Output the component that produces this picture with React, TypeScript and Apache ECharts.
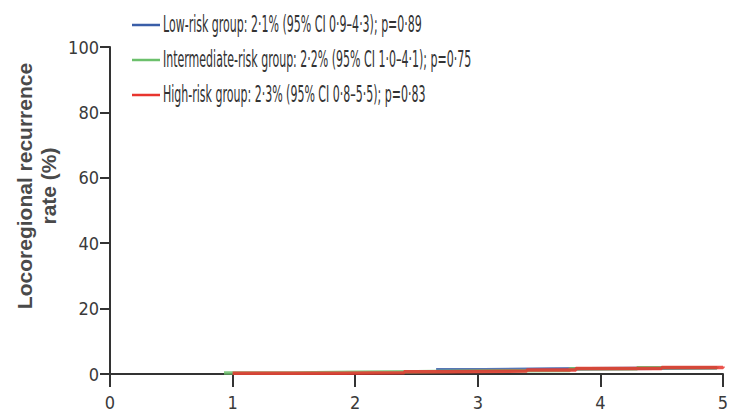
import React, { useEffect, useRef } from "react";
import * as echarts from "echarts";

const xTicks = [0, 1, 2, 3, 4, 5];
const yTicks = [0, 20, 40, 60, 80, 100];

const seriesNames = [
  "Low-risk group: 2·1% (95% CI 0·9–4·3); p=0·89",
  "Intermediate-risk group: 2·2% (95% CI 1·0–4·1); p=0·75",
  "High-risk group: 2·3% (95% CI 0·8–5·5); p=0·83",
];
const seriesColors = ["#3a5ea8", "#6cc06c", "#e8352e"];

const lowX = [2.66, 3.05, 3.6, 4.2, 4.95];
const lowY = [1.3, 1.5, 1.7, 1.9, 2.1];
const intX = [0.93, 1.5, 2.0, 2.5, 3.0, 3.75, 4.3, 4.95];
const intY = [0.3, 0.5, 0.7, 0.9, 1.1, 1.6, 1.9, 2.2];
const highX = [1.0, 1.9, 2.4, 2.75, 3.4, 3.8, 4.5, 5.0];
const highY = [0.2, 0.4, 0.7, 0.9, 1.2, 1.7, 2.0, 2.3];

const yTitle = ["Locoregional recurrence", "rate (%)"];

const FONT = "'DejaVu Sans Condensed', 'Liberation Sans', sans-serif";

export default function App() {
  const ref = useRef<HTMLDivElement>(null);
  useEffect(() => {
    if (!ref.current) return;
    const chart = echarts.init(ref.current, undefined, { renderer: "svg" });
    const xs = [lowX, intX, highX];
    const ys = [lowY, intY, highY];
    const legendRowsY = [24, 59, 94];
    const graphic: any[] = [];
    seriesNames.forEach((n, i) => {
      graphic.push({
        type: "line",
        shape: { x1: 132, y1: legendRowsY[i] + 1, x2: 160, y2: legendRowsY[i] + 1 },
        style: { stroke: seriesColors[i], lineWidth: 2.5 },
      });
      graphic.push({
        type: "text",
        x: 163,
        y: legendRowsY[i],
        scaleX: 0.72,
        scaleY: 1.3,
        style: {
          text: n,
          fill: "#333",
          font: `17px ${FONT}`,
          textAlign: "left",
          textVerticalAlign: "middle",
        },
      });
    });
    graphic.push({
      type: "text",
      x: 36,
      y: 186,
      rotation: Math.PI / 2,
      style: {
        text: yTitle.join("\n"),
        fill: "#4a4a4a",
        font: `bold 21px 'Liberation Sans', sans-serif`,
        lineHeight: 24,
        textAlign: "center",
        textVerticalAlign: "middle",
      },
    });
    chart.setOption({
      animation: false,
      grid: { left: 110, right: 15, top: 47, bottom: 44 },
      xAxis: {
        type: "value",
        min: xTicks[0],
        max: xTicks[xTicks.length - 1],
        interval: 1,
        axisLine: { lineStyle: { color: "#333", width: 2 } },
        axisTick: { show: true, length: 13, lineStyle: { color: "#333", width: 2 } },
        axisLabel: { margin: 19, fontSize: 18, fontFamily: FONT, color: "#3a3a3a" },
        splitLine: { show: false },
      },
      yAxis: {
        type: "value",
        min: yTicks[0],
        max: yTicks[yTicks.length - 1],
        interval: 20,
        axisLine: { show: true, lineStyle: { color: "#333", width: 2 } },
        axisTick: { show: true, length: 10, lineStyle: { color: "#333", width: 2 } },
        axisLabel: { margin: 11, fontSize: 18, fontFamily: FONT, color: "#3a3a3a" },
        splitLine: { show: false },
      },
      series: seriesNames.map((n, i) => ({
        name: n,
        type: "line",
        step: "end",
        symbol: "none",
        data: xs[i].map((x, j) => [x, ys[i][j]]),
        lineStyle: { color: seriesColors[i], width: 3.5, opacity: 0.85 },
      })),
      graphic,
    });
    return () => chart.dispose();
  }, []);
  return <div ref={ref} style={{ width: 738, height: 418, margin: -8 }} />;
}
